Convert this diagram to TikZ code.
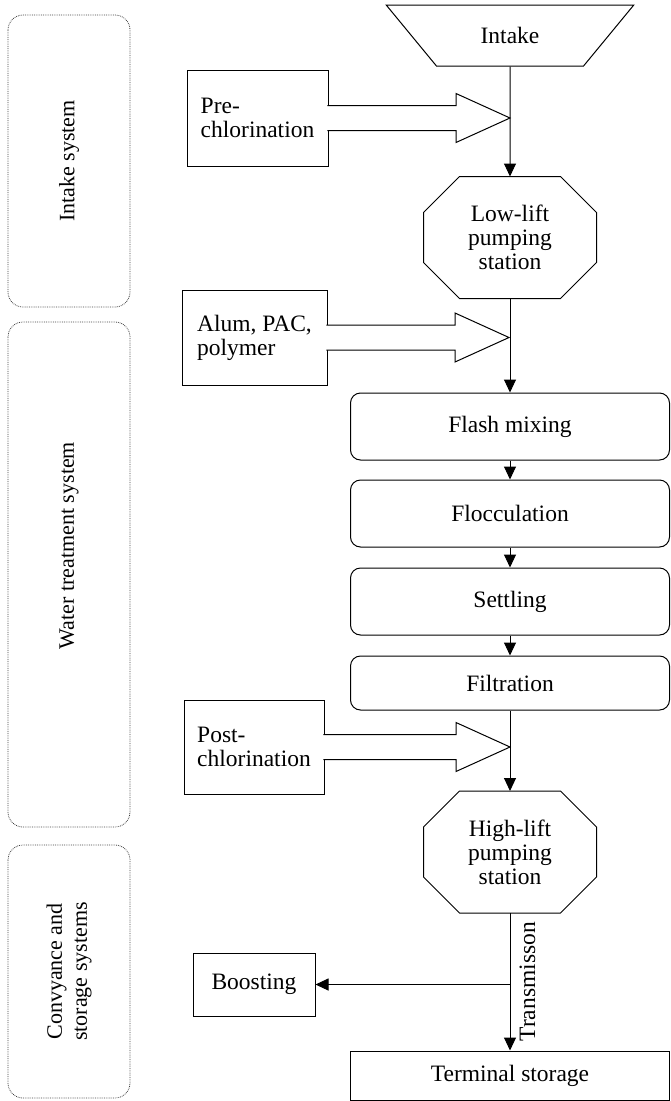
\documentclass[tikz,border=0pt]{standalone}
\usepackage{fontspec}
\setmainfont{Liberation Serif}
\usetikzlibrary{shapes.geometric,arrows.meta}

\tikzset{
  every node/.style={font=\fontsize{23.5}{24}\selectfont},
  flow/.style={-{Triangle[length=13pt,width=12pt]}},
  stage/.style={draw,rounded corners=10pt,minimum width=319pt,inner sep=0pt},
  plainbox/.style={draw,inner sep=0pt},
  pump/.style={minimum width=173pt,minimum height=122pt,inner sep=0pt,outer sep=0pt,align=center},
  hopper/.style={draw,trapezium,trapezium stretches=true,shape border rotate=180,
    trapezium left angle=39.5,trapezium right angle=39.5,
    minimum width=248pt,minimum height=61pt,inner sep=0pt},
  dose/.style={draw,align=left,outer sep=0pt,inner sep=0pt},
  feed/.style={fill=white},
  sysframe/.style={draw=black!75,densely dotted,line width=0.8pt,rounded corners=15pt,
    rotate=90,minimum height=122pt,inner sep=0pt,align=center,
    font=\fontsize{22}{25}\selectfont},
  systext/.style={rotate=90,align=center,font=\fontsize{22}{25}\selectfont},
}

% octagon round a pumping station node
\newcommand\pumpoutline[1]{%
  \draw ([xshift=36pt]#1.north west) -- ([xshift=-36pt]#1.north east)
    -- ([yshift=-36pt]#1.north east) -- ([yshift=36pt]#1.south east)
    -- ([xshift=-36pt]#1.south east) -- ([xshift=36pt]#1.south west)
    -- ([yshift=36pt]#1.south west) -- ([yshift=-36pt]#1.north west) -- cycle;}

% hollow dosing arrow leaving a chemical box
\newcommand\feedarrow[2]{%
  \draw[feed] ([xshift=-0.6pt,yshift=12.5pt]#1.east) -- ++(#2+0.6,0) -- ++(0,12)
    -- ++(54,-24.5) -- ++(-54,-24.5) -- ++(0,12) -- ++(-#2-0.6,0);}

\begin{document}
\begin{tikzpicture}[x=1pt,y=1pt,line width=1pt]
  \useasboundingbox (0,0) rectangle (670,-1101);

  % system frames on the left
  \node[sysframe,minimum width=292pt] (intakesys) at (69,-161) {Intake system};
  \node[sysframe,minimum width=505pt] (treatsys) at (69,-574.5) {};
  \node[systext] (treatname) at ([yshift=29pt]treatsys.center) {Water treatment system};
  \node[sysframe,minimum width=253pt] (convsys) at (69,-971.5) {Convyance and\\storage systems};

  % main process column
  \node[hopper] (intake) at (510,-35.5) {Intake};
  \node[pump] (lowlift) at (510,-237.5) {Low-lift\\pumping\\station};
  \node[stage,minimum height=67pt] (flash) at (510,-426.5) {Flash mixing};
  \node[stage,minimum height=67pt] (floc) at (510,-513.5) {Flocculation};
  \node[stage,minimum height=67pt] (settle) at (510,-601.5) {Settling};
  \node[stage,minimum height=54pt] (filter) at (510,-683) {Filtration};
  \node[pump] (highlift) at (510,-852) {High-lift\\pumping\\station};
  \node[plainbox,minimum width=319pt,minimum height=49pt] (terminal) at (510,-1075.5) {Terminal storage};
  \pumpoutline{lowlift}
  \pumpoutline{highlift}

  % chemicals and boosting
  \node[dose,minimum width=141pt,minimum height=96pt] (pre) at (257.5,-118) {Pre-\\chlorination};
  \node[dose,minimum width=145pt,minimum height=95pt] (alum) at (254.5,-337.5) {Alum, PAC,\\polymer};
  \node[dose,minimum width=140pt,minimum height=94pt] (post) at (254,-747) {Post-\\chlorination};
  \node[plainbox,minimum width=122pt,minimum height=63pt] (boost) at (254,-984.5) {Boosting};

  \draw[flow] (intake.south) -- (lowlift.north);
  \draw[flow] (lowlift.south) -- (flash.north);
  \draw[flow] (flash.south) -- (floc.north);
  \draw[flow] (floc.south) -- (settle.north);
  \draw[flow] (settle.south) -- (filter.north);
  \draw[flow] (filter.south) -- (highlift.north);
  \draw[flow] (highlift.south) -- node[midway,rotate=90,anchor=north,inner ysep=9pt] {Transmisson} (terminal.north);
  \draw[flow] (boost.east -| highlift.south) -- (boost.east);

  \feedarrow{pre}{128}
  \feedarrow{alum}{128}
  \feedarrow{post}{132}

\end{tikzpicture}
\end{document}
